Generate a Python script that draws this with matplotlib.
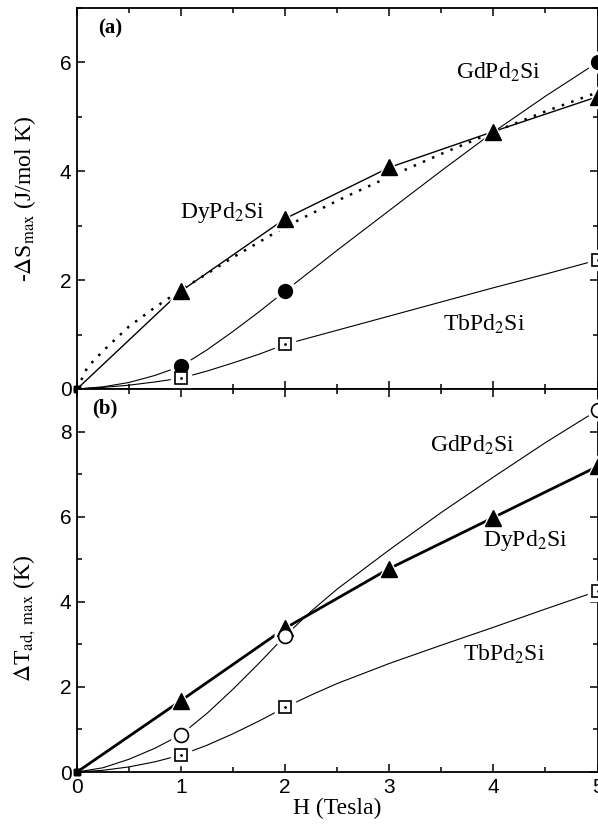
import matplotlib
matplotlib.use("Agg")
import matplotlib.pyplot as plt
from matplotlib.ticker import MultipleLocator

plt.rcParams['font.family'] = ['Liberation Serif', 'DejaVu Serif']
plt.rcParams['mathtext.fontset'] = 'stix'

# measured points (H in Tesla)
H = [0, 1, 2, 3, 4, 5]
H_gt = [0, 1, 2, 5]

# (a) -dS_max (J/mol K)
dS_dy = [0, 1.80, 3.13, 4.07, 4.73, 5.37]
dS_gd = [0, 0.42, 1.80, 6.00]
dS_tb = [0, 0.20, 0.82, 2.37]

# guide curves
curve_a_x = [0, 0.25, 0.5, 0.75, 1, 1.25, 1.5, 1.75, 2, 2.5, 3, 3.5, 4, 4.5, 5]
curve_a_gd = [0, 0.04, 0.12, 0.25, 0.42, 0.72, 1.06, 1.42, 1.80, 2.55, 3.28, 4.01, 4.72, 5.38, 6.00]
curve_a_tb = [0, 0.03, 0.07, 0.13, 0.20, 0.33, 0.48, 0.64, 0.82, 1.08, 1.34, 1.60, 1.86, 2.11, 2.37]
dot_x = [0, 0.1, 0.25, 0.5, 0.75, 1, 1.5, 2, 2.5, 3, 3.5, 4, 4.5, 5]
dot_dy = [0, 0.40, 0.70, 1.15, 1.50, 1.82, 2.42, 2.98, 3.46, 3.90, 4.32, 4.72, 5.10, 5.45]

# (b) dT_ad,max (K)
dT_dy = [0, 1.68, 3.38, 4.78, 5.98, 7.18]
dT_gd = [0, 0.88, 3.20, 8.50]
dT_tb = [0, 0.40, 1.52, 4.25]

curve_b_x = [0, 0.25, 0.5, 0.75, 1, 1.25, 1.5, 1.75, 2, 2.25, 2.5, 3, 3.5, 4, 4.5, 5]
curve_b_gd = [0, 0.10, 0.30, 0.56, 0.88, 1.38, 1.95, 2.56, 3.20, 3.78, 4.30, 5.22, 6.10, 6.93, 7.74, 8.50]
curve_b_tb = [0, 0.04, 0.12, 0.24, 0.40, 0.63, 0.90, 1.20, 1.52, 1.81, 2.08, 2.55, 2.98, 3.40, 3.83, 4.25]

fig = plt.figure(figsize=(5.98, 8.32), dpi=100)
W = 598.0
Hpx = 832.0
ax1 = fig.add_axes([77 / W, 1 - 389 / Hpx, 520.5 / W, 381 / Hpx])
ax2 = fig.add_axes([77 / W, 1 - 772 / Hpx, 520.5 / W, 383 / Hpx])


def marks(ax, x, y, kind, ms, filled=True):
    # white halo so the lines stop short of the symbols
    ax.plot(x[1:], y[1:], ls='none', marker=kind, ms=ms + 5, mfc='white',
            mec='white', zorder=3, clip_on=False)
    if filled:
        ax.plot(x[1:], y[1:], ls='none', marker=kind, ms=ms, color='black',
                zorder=4, clip_on=False)
    else:
        ax.plot(x[1:], y[1:], ls='none', marker=kind, ms=ms, mfc='white',
                mec='black', mew=1.2, zorder=4, clip_on=False)
        if kind == 's':
            ax.plot(x[1:], y[1:], ls='none', marker='.', ms=2, color='black',
                    zorder=5, clip_on=False)
    ax.plot(x[0], y[0], ls='none', marker='s', ms=5, color='black', zorder=5,
            clip_on=False)


# panel (a)
ax1.plot(dot_x, dot_dy, ls=(0, (1, 3)), lw=1.8, color='black', zorder=2)
ax1.plot(H, dS_dy, lw=1.0, color='black', zorder=2)
ax1.plot(curve_a_x, curve_a_gd, lw=0.8, color='black', zorder=2)
ax1.plot(curve_a_x, curve_a_tb, lw=0.8, color='black', zorder=2)
marks(ax1, H, dS_dy, '^', 11)
marks(ax1, H_gt, dS_gd, 'o', 10)
marks(ax1, H_gt, dS_tb, 's', 9, filled=False)

ax1.text(3.64, 5.82, r'GdPd$_2$Si', fontsize=17, va='center')
ax1.text(0.99, 3.24, r'DyPd$_2$Si', fontsize=17, va='center')
ax1.text(3.52, 1.18, r'TbPd$_2$Si', fontsize=17, va='center')
ax1.text(0.04, 0.945, '(a)', transform=ax1.transAxes, fontsize=15,
         fontweight='bold', va='center')

ax1.set_xlim(0, 5)
ax1.set_ylim(0, 7)
ax1.set_ylabel(r'-$\Delta$S$_{\rm max}$ (J/mol K)', fontsize=17)

# panel (b)
ax2.plot(H, dT_dy, lw=2.0, color='black', zorder=2)
ax2.plot(curve_b_x, curve_b_gd, lw=0.8, color='black', zorder=2)
ax2.plot(curve_b_x, curve_b_tb, lw=0.8, color='black', zorder=2)
marks(ax2, H, dT_dy, '^', 11)
marks(ax2, H_gt, dT_gd, 'o', 10, filled=False)
marks(ax2, H_gt, dT_tb, 's', 9, filled=False)

ax2.text(3.39, 7.67, r'GdPd$_2$Si', fontsize=17, va='center')
ax2.text(3.90, 5.43, r'DyPd$_2$Si', fontsize=17, va='center')
ax2.text(3.71, 2.76, r'TbPd$_2$Si', fontsize=17, va='center')
ax2.text(0.03, 0.95, '(b)', transform=ax2.transAxes, fontsize=15,
         fontweight='bold', va='center')

ax2.set_xlim(0, 5)
ax2.set_ylim(0, 9)
ax2.set_xlabel('H (Tesla)', fontsize=17, labelpad=1)
ax2.set_ylabel(r'$\Delta$T$_{\rm ad,\ max}$ (K)', fontsize=17)

for ax in (ax1, ax2):
    ax.xaxis.set_major_locator(MultipleLocator(1))
    ax.xaxis.set_minor_locator(MultipleLocator(0.5))
    ax.yaxis.set_major_locator(MultipleLocator(2))
    ax.yaxis.set_minor_locator(MultipleLocator(1))
    ax.tick_params(which='both', direction='in', top=True, right=True,
                   width=1.1, labelsize=15, pad=4)
    ax.tick_params(which='major', length=6)
    ax.tick_params(which='minor', length=3.5)
    for sp in ax.spines.values():
        sp.set_linewidth(1.3)
    plt.setp(ax.get_xticklabels() + ax.get_yticklabels(), family='Liberation Sans')
ax1.tick_params(labelbottom=False)
ax1.yaxis.set_label_coords(-0.075, 0.5)
ax2.yaxis.set_label_coords(-0.075, 0.40)

fig.savefig('out.png', dpi=100)
